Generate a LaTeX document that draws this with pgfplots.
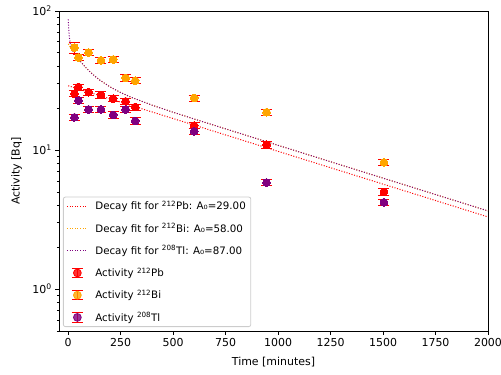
\documentclass[border=0pt]{standalone}
\usepackage{fontspec}
\setmainfont{DejaVu Sans}
\usepackage{pgfplots}
\pgfplotsset{compat=1.18}
\definecolor{mplorange}{HTML}{FFA500}
\definecolor{mplpurple}{HTML}{800080}
\definecolor{legedge}{HTML}{CCCCCC}
\pgfplotsset{
  errlegend/.style={legend image code/.code={
    \draw[red, line width=0.9bp] (10.5bp,-4.7bp) -- (10.5bp,4.7bp);
    \draw[red, line width=0.9bp] (5bp,-4.7bp) -- (16bp,-4.7bp);
    \draw[red, line width=0.9bp] (5bp,4.7bp) -- (16bp,4.7bp);
    \fill[#1] (10.5bp,0bp) circle (3.9bp);
  }},
  fitlegend/.style={legend image code/.code={
    \draw[#1, line width=1bp, dash pattern=on 1bp off 1.65bp] (0bp,0bp) -- (21bp,0bp);
  }},
  datastyle/.style={only marks, mark=*, mark size=3.9bp, color=#1, mark options={fill=#1, draw=#1, line width=0pt},
    error bars/y dir=both, error bars/y explicit,
    error bars/error bar style={red, line width=0.9bp},
    error bars/error mark options={rotate=90, red, mark size=5.5bp, line width=0.9bp}},
  fitstyle/.style={no markers, color=#1, line width=1bp, dash pattern=on 1bp off 1.65bp},
}
\begin{document}
\begin{tikzpicture}
\begin{axis}[
  name=ax,
  scale only axis, width=429bp, height=320bp,
  ymode=log, xmin=-44, xmax=2000, ymin=0.5, ymax=100,
  xtick={0,250,...,2000},
  ytick={1,10,100},
  yticklabels={10\textsuperscript{0},10\textsuperscript{1},10\textsuperscript{2}},
  minor ytick={0.5,0.6,0.7,0.8,0.9,2,3,4,5,6,7,8,9,20,30,40,50,60,70,80,90},
  xtick pos=bottom, ytick pos=left,
  tick align=outside, major tick length=3.8bp, minor tick length=2.2bp,
  tick style={black, line width=0.8bp},
  axis line style={line width=0.8bp},
  /pgf/number format/assume math mode=true,
  /pgf/number format/1000 sep={},
  tick label style={font=\fontsize{11}{13}\selectfont},
  label style={font=\fontsize{11}{13}\selectfont},
  xlabel={Time [minutes]}, ylabel={Activity [Bq]},
  xlabel style={at={(axis description cs:0.5,-0.097)}, anchor=center},
  ylabel style={at={(axis description cs:-0.099,0.5)}, anchor=center},
  legend style={at={(0.0093,0.0125)}, anchor=south west, draw=legedge, line width=0.8bp,
    fill=white, fill opacity=0.8, text opacity=1, rounded corners=2bp,
    font=\fontsize{10.3}{12}\selectfont, row sep=7.8bp, column sep=5bp, cells={anchor=west}},
  legend cell align=left,
]
\addplot[fitstyle=red, fitlegend=red] coordinates {
 (0,29.00)(500,16.85)(1000,9.79)(1500,5.69)(2000,3.305)};
\addlegendentry{Decay fit for \textsuperscript{212}Pb: A₀=29.00}
\addplot[fitstyle=mplorange, fitlegend=mplorange] coordinates {
 (0,58.00)(5,56.38)(10,54.85)(20,52.00)(30,49.43)(40,47.10)(50,44.99)(60,43.08)(80,39.76)
 (100,37.00)(125,34.18)(150,31.88)(200,28.41)(250,25.91)(300,23.97)(400,21.02)(500,18.70)
 (600,16.73)(800,13.445)(1000,10.816)(1250,8.243)(1500,6.283)(1750,4.789)(2000,3.651)};
\addlegendentry{Decay fit for \textsuperscript{212}Bi: A₀=58.00}
\addplot[fitstyle=mplpurple, fitlegend=mplpurple] coordinates {
 (0,87.00)(1,80.78)(2,75.77)(3,71.70)(4,68.40)(5,65.70)(7,61.69)(10,57.85)(15,54.36)(20,52.31)
 (30,49.46)(40,47.10)(50,44.99)(60,43.08)(80,39.76)
 (100,37.00)(125,34.18)(150,31.88)(200,28.41)(250,25.91)(300,23.97)(400,21.02)(500,18.70)
 (600,16.73)(800,13.445)(1000,10.816)(1250,8.243)(1500,6.283)(1750,4.789)(2000,3.651)};
\addlegendentry{Decay fit for \textsuperscript{208}Tl: A₀=87.00}
\addplot[errlegend=red, datastyle=red] coordinates {
 (29.5,25.4) +- (0,1.3)
 (48.6,28.4) +- (0,1.45)
 (97,26.1) +- (0,1.35)
 (156,24.9) +- (0,1.3)
 (214,23.4) +- (0,1.2)
 (273.5,22.4) +- (0,1.15)
 (319,20.4) +- (0,1.05)
 (600,15.0) +- (0,0.78)
 (945,10.9) +- (0,0.56)
 (1504,5.0) +- (0,0.26)};
\addlegendentry{Activity \textsuperscript{212}Pb}
\addplot[errlegend=mplorange, datastyle=mplorange] coordinates {
 (29.5,54.6) +- (0,4.8)
 (48.6,46.3) +- (0,2.4)
 (97,50.3) +- (0,2.6)
 (156,44.2) +- (0,2.3)
 (214,44.8) +- (0,2.3)
 (273.5,33.0) +- (0,1.7)
 (319,31.5) +- (0,1.6)
 (600,23.7) +- (0,1.2)
 (945,18.7) +- (0,0.95)
 (1504,8.15) +- (0,0.42)};
\addlegendentry{Activity \textsuperscript{212}Bi}
\addplot[errlegend=mplpurple, datastyle=mplpurple] coordinates {
 (29.5,17.2) +- (0,0.88)
 (48.6,22.7) +- (0,1.15)
 (97,19.6) +- (0,1.0)
 (156,19.6) +- (0,1.0)
 (214,17.9) +- (0,0.92)
 (273.5,19.6) +- (0,1.0)
 (319,16.2) +- (0,0.83)
 (600,13.65) +- (0,0.7)
 (945,5.84) +- (0,0.3)
 (1504,4.21) +- (0,0.22)};
\addlegendentry{Activity \textsuperscript{208}Tl}
\end{axis}
\pgfresetboundingbox
\path[use as bounding box] (ax.south west) ++(-59bp,-44bp) rectangle ++(501bp,375bp);
\end{tikzpicture}
\end{document}
